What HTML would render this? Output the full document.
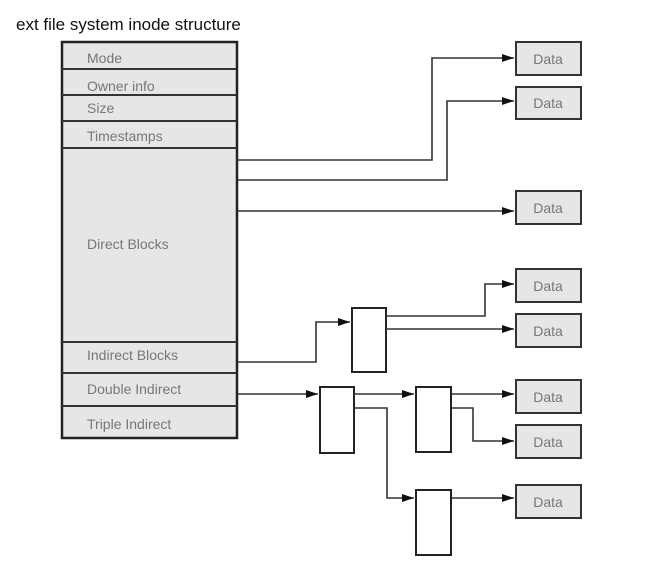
<!DOCTYPE html>
<html><head><style>
body{margin:0;background:#fff;width:668px;height:566px;overflow:hidden}
svg text{font-family:"Liberation Sans",sans-serif}
</style></head><body>
<svg width="668" height="566" viewBox="0 0 668 566" xmlns="http://www.w3.org/2000/svg">
<defs><marker id="a" markerWidth="12" markerHeight="8" refX="12" refY="4" orient="auto" markerUnits="userSpaceOnUse"><path d="M0,0 L12,4 L0,8z" fill="#111"/></marker></defs>
<text x="16" y="30" font-size="17" fill="#111">ext file system inode structure</text>
<rect x="62" y="42" width="175" height="396" fill="#e6e6e6" stroke="#222" stroke-width="2.5"/>
<g stroke="#333" stroke-width="2"><line x1="62" y1="69" x2="237" y2="69"/><line x1="62" y1="95" x2="237" y2="95"/><line x1="62" y1="121" x2="237" y2="121"/><line x1="62" y1="148" x2="237" y2="148"/><line x1="62" y1="342" x2="237" y2="342"/><line x1="62" y1="373" x2="237" y2="373"/><line x1="62" y1="406" x2="237" y2="406"/></g>
<g font-size="14" fill="#777"><text x="87" y="63">Mode</text><text x="87" y="91">Owner info</text><text x="87" y="113">Size</text><text x="87" y="141">Timestamps</text><text x="87" y="249">Direct Blocks</text><text x="87" y="360">Indirect Blocks</text><text x="87" y="394">Double Indirect</text><text x="87" y="429">Triple Indirect</text></g>
<g fill="#e6e6e6" stroke="#333" stroke-width="2">
<rect x="516" y="42" width="65" height="33"/><rect x="516" y="87" width="65" height="32"/><rect x="516" y="191" width="65" height="33"/><rect x="516" y="269" width="65" height="33"/><rect x="516" y="314" width="65" height="33"/><rect x="516" y="380" width="65" height="33"/><rect x="516" y="425" width="65" height="33"/><rect x="516" y="485" width="65" height="33"/></g>
<g font-size="14" fill="#777" text-anchor="middle"><text x="548" y="64">Data</text><text x="548" y="108">Data</text><text x="548" y="213">Data</text><text x="548" y="291">Data</text><text x="548" y="336">Data</text><text x="548" y="402">Data</text><text x="548" y="447">Data</text><text x="548" y="507">Data</text></g>
<g fill="#fff" stroke="#222" stroke-width="2"><rect x="352" y="308" width="34" height="64"/><rect x="320" y="387" width="34" height="66"/><rect x="416" y="387" width="35" height="65"/><rect x="416" y="490" width="35" height="65"/></g>
<g fill="none" stroke="#333" stroke-width="1.6" marker-end="url(#a)">
<polyline points="237,160 432,160 432,58 514,58"/>
<polyline points="237,180 447,180 447,101 514,101"/>
<polyline points="237,211 514,211"/>
<polyline points="237,362 316,362 316,322 350,322"/>
<polyline points="386,316 485,316 485,284 514,284"/>
<polyline points="386,329 514,329"/>
<polyline points="237,394 318,394"/>
<polyline points="354,394 414,394"/>
<polyline points="451,394 514,394"/>
<polyline points="451,408 473,408 473,441 514,441"/>
<polyline points="354,408 387,408 387,498 414,498"/>
<polyline points="451,498 514,498"/>
</g>
</svg>
</body></html>
